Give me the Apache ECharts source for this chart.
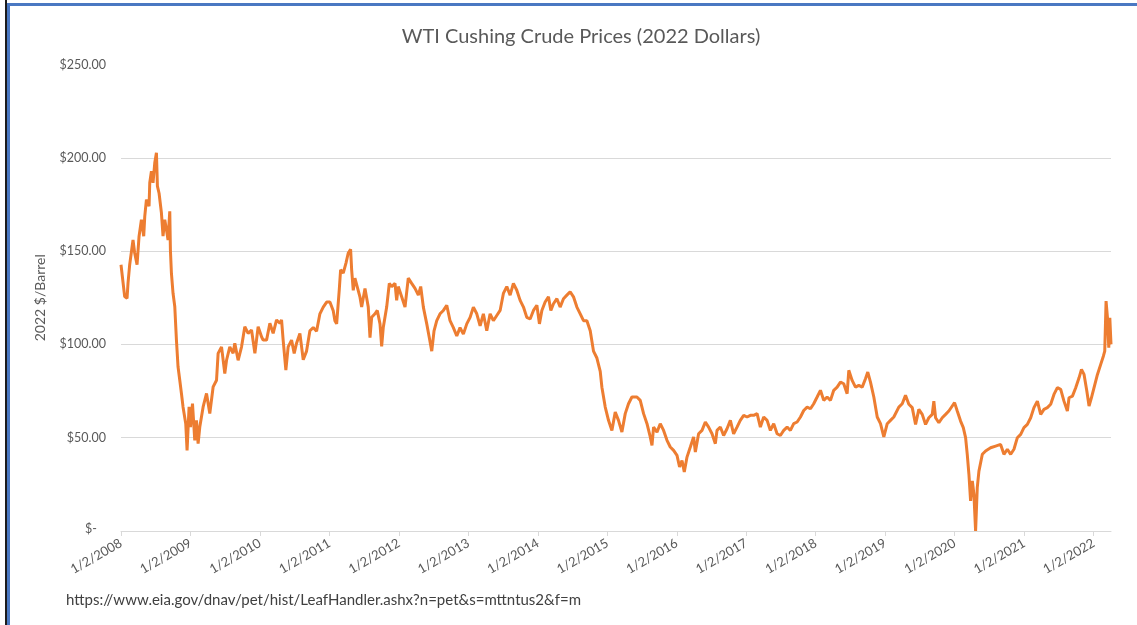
<!DOCTYPE html>
<html>
<head>
<meta charset="utf-8">
<script src="https://cdn.jsdelivr.net/npm/echarts@6/dist/echarts.min.js"></script>
<style>
  html, body { margin: 0; padding: 0; background: #fff; }
  #wrap { position: relative; width: 1137px; height: 625px; overflow: hidden; }
  #chart { position: absolute; left: 0; top: 0; width: 1137px; height: 625px; }
  .edge { position: absolute; }
</style>
</head>
<body>
<div id="wrap">
  <div id="chart"></div>
  <div class="edge" style="left:5px;top:0;width:2px;height:625px;background:#1c1c1c;"></div>
  <div class="edge" style="left:7px;top:3px;width:3px;height:622px;background:#4a78c2;"></div>
  <div class="edge" style="left:7px;top:3px;width:1130px;height:3px;background:#4a78c2;"></div>
</div>
<script>
// ==============================================================
// WTI Cushing crude, real 2022 dollars
// ==============================================================
var yearTicks = [2008, 2009, 2010, 2011, 2012, 2013, 2014, 2015, 2016, 2017, 2018, 2019, 2020, 2021, 2022];

// decimal year of each reading
var dateYears = [
  2008.000, 2008.053, 2008.087, 2008.101, 2008.125, 2008.173, 2008.197, 2008.231, 2008.260, 2008.294,
  2008.327, 2008.342, 2008.366, 2008.404, 2008.414, 2008.438, 2008.461, 2008.486, 2008.510, 2008.524,
  2008.548, 2008.582, 2008.605, 2008.630, 2008.654, 2008.677, 2008.702, 2008.711, 2008.726, 2008.749,
  2008.774, 2008.798, 2008.821, 2008.846, 2008.870, 2008.893, 2008.932, 2008.951, 2008.980, 2009.000,
  2009.029, 2009.062, 2009.086, 2009.110, 2009.134, 2009.182, 2009.231, 2009.278, 2009.326, 2009.375,
  2009.398, 2009.447, 2009.494, 2009.519, 2009.566, 2009.614, 2009.638, 2009.686, 2009.735, 2009.782,
  2009.830, 2009.879, 2009.927, 2009.974, 2010.023, 2010.046, 2010.095, 2010.143, 2010.190, 2010.239,
  2010.287, 2010.311, 2010.334, 2010.373, 2010.406, 2010.455, 2010.493, 2010.527, 2010.575,
  2010.623, 2010.671, 2010.719, 2010.767, 2010.815, 2010.863, 2010.911, 2010.960, 2011.007, 2011.055,
  2011.079, 2011.104, 2011.141, 2011.161, 2011.199, 2011.238, 2011.271, 2011.305, 2011.320, 2011.343,
  2011.367, 2011.392, 2011.439, 2011.464, 2011.512, 2011.536, 2011.559, 2011.584, 2011.608, 2011.656,
  2011.689, 2011.728, 2011.752, 2011.775, 2011.824, 2011.862, 2011.896, 2011.944, 2011.968, 2011.991,
  2012.040, 2012.088, 2012.135, 2012.184, 2012.232, 2012.280, 2012.314, 2012.352, 2012.401, 2012.438,
  2012.473, 2012.506, 2012.545, 2012.592, 2012.640, 2012.689, 2012.736, 2012.784, 2012.833, 2012.880,
  2012.928, 2012.977, 2013.025, 2013.072, 2013.121, 2013.169, 2013.216, 2013.265, 2013.313, 2013.360,
  2013.409, 2013.457, 2013.504, 2013.553, 2013.601, 2013.648, 2013.697, 2013.745, 2013.793, 2013.841,
  2013.889, 2013.937, 2013.986, 2014.023, 2014.058, 2014.105, 2014.153, 2014.187, 2014.225, 2014.274,
  2014.321, 2014.369, 2014.418, 2014.465, 2014.513, 2014.562, 2014.610, 2014.657, 2014.706, 2014.754,
  2014.801, 2014.850, 2014.898,
  2014.922, 2014.970, 2015.017, 2015.066, 2015.114, 2015.161, 2015.210, 2015.258, 2015.305, 2015.354,
  2015.426, 2015.474, 2015.522, 2015.571, 2015.618, 2015.643, 2015.666, 2015.715, 2015.762, 2015.810,
  2015.859, 2015.906, 2015.954, 2016.003, 2016.040, 2016.075, 2016.108, 2016.147, 2016.195, 2016.242,
  2016.267, 2016.314, 2016.363, 2016.411, 2016.458, 2016.507, 2016.555, 2016.579, 2016.627, 2016.674,
  2016.723, 2016.771, 2016.818, 2016.867, 2016.914, 2016.963, 2017.012, 2017.059, 2017.107, 2017.156,
  2017.203, 2017.251, 2017.300, 2017.347, 2017.395, 2017.444, 2017.491, 2017.539, 2017.588, 2017.635,
  2017.683, 2017.732, 2017.780, 2017.827, 2017.876, 2017.924, 2017.971, 2018.020, 2018.068, 2018.115,
  2018.164, 2018.212, 2018.259, 2018.308, 2018.356, 2018.403, 2018.452, 2018.476, 2018.524, 2018.572,
  2018.620, 2018.669, 2018.716, 2018.749, 2018.788, 2018.836, 2018.885, 2018.932, 2018.980, 2019.029,
  2019.076, 2019.124, 2019.196, 2019.245, 2019.292,
  2019.340, 2019.389, 2019.437, 2019.484, 2019.533, 2019.581, 2019.628, 2019.677, 2019.700, 2019.725,
  2019.772, 2019.821, 2019.869, 2019.916, 2019.965, 2019.998, 2020.037, 2020.085, 2020.124, 2020.157,
  2020.181, 2020.205, 2020.229, 2020.254, 2020.277, 2020.301, 2020.325, 2020.349, 2020.398, 2020.445,
  2020.517, 2020.589, 2020.661, 2020.709, 2020.758, 2020.806, 2020.853, 2020.902, 2020.950, 2020.997,
  2021.046, 2021.094, 2021.141, 2021.190, 2021.238, 2021.285, 2021.334, 2021.382, 2021.429, 2021.478,
  2021.526, 2021.573, 2021.622, 2021.646, 2021.695, 2021.742, 2021.790, 2021.825, 2021.862, 2021.902,
  2021.934, 2021.968, 2022.006, 2022.055, 2022.102, 2022.141, 2022.160, 2022.179, 2022.199, 2022.218,
  2022.233, 2022.250
];

// $/barrel, 2022 dollars
var prices = [
  142.7, 125.6, 124.7, 132.8, 142.7, 156.0, 149.0, 142.7, 158.0, 166.8,
  158.0, 168.6, 177.6, 174.0, 186.6, 192.8, 186.6, 197.3, 202.7, 184.8,
  181.0, 170.4, 158.0, 166.8, 161.5, 156.0, 171.3, 150.7, 138.0, 127.4,
  120.3, 102.3, 88.0, 80.8, 73.7, 66.5, 57.5, 43.2, 66.5, 55.7,
  68.3, 48.6, 59.3, 46.8, 55.7, 66.5, 73.7, 63.0, 77.2, 80.8,
  95.2, 98.7, 84.4, 91.5, 98.7, 95.2, 100.6, 91.5, 98.7, 109.5,
  105.9, 107.7, 95.2, 109.5, 104.1, 102.3, 102.3, 111.3, 105.9, 113.1,
  111.3, 113.1, 102.3, 86.2, 98.7, 102.3, 95.2, 100.6, 105.9,
  91.8, 96.4, 107.3, 109.0, 107.0, 116.4, 120.0, 122.7, 122.7, 118.0,
  112.7, 111.0, 129.0, 140.0, 138.2, 143.6, 149.0, 150.9, 140.0, 129.0,
  135.5, 134.5, 125.5, 120.0, 130.0, 129.0, 120.0, 103.6, 114.5, 116.4,
  118.2, 111.0, 99.0, 109.0, 120.0, 132.7, 131.0, 132.7, 123.6, 131.0,
  125.5, 120.0, 135.5, 132.7, 130.0, 126.4, 131.0, 120.0, 111.0, 103.6,
  96.4, 107.3, 112.7, 116.4, 118.2, 121.0, 112.7, 109.0, 104.5, 109.0,
  105.5, 111.0, 114.5, 120.0, 116.4, 110.0, 116.4, 107.3, 116.4, 112.7,
  115.5, 118.2, 127.3, 131.0, 126.4, 132.7, 129.0, 123.6, 120.0, 114.5,
  113.6, 118.2, 121.0, 111.0, 118.2, 122.7, 125.5, 118.2, 121.8, 124.5,
  120.0, 124.5, 126.4, 128.2, 125.5, 120.0, 116.4, 112.7, 112.7, 107.3,
  96.4, 92.7, 85.5,
  77.1, 66.4, 59.3, 53.9, 63.7, 59.3, 53.0, 62.9, 68.2, 71.8,
  71.8, 70.0, 62.9, 57.5, 50.4, 45.9, 55.7, 53.0, 57.5, 53.9,
  48.6, 45.0, 43.2, 40.5, 34.3, 37.8, 31.6, 39.6, 45.0, 50.4,
  42.3, 52.1, 53.9, 58.4, 55.7, 52.1, 46.8, 53.9, 55.7, 51.2,
  54.8, 59.3, 52.1, 55.7, 59.3, 62.0, 61.1, 62.0, 62.0, 62.9,
  55.7, 61.1, 59.3, 53.9, 57.5, 52.1, 51.2, 53.9, 55.7, 53.9,
  57.5, 58.4, 61.1, 64.6, 66.4, 65.5, 68.2, 71.8, 75.4, 70.0,
  71.8, 70.0, 75.4, 77.1, 79.8, 78.9, 73.6, 86.1, 80.7, 77.1,
  78.0, 77.1, 81.6, 85.2, 79.8, 71.8, 61.1, 57.5, 50.4, 57.5,
  59.3, 61.1, 66.4, 68.2, 72.7,
  67.9, 66.1, 57.1, 65.2, 62.5, 57.1, 60.7, 62.5, 69.6, 60.7,
  58.0, 60.7, 62.5, 64.3, 67.0, 68.8, 64.3, 58.9, 55.4, 50.0,
  41.1, 30.4, 16.1, 26.8, 19.6, 0.0, 23.2, 32.1, 41.1, 42.9,
  44.6, 45.5, 46.4, 41.1, 43.8, 41.1, 43.8, 50.0, 51.8, 55.4,
  57.1, 60.7, 66.1, 69.6, 62.5, 65.2, 66.1, 67.9, 73.2, 76.8,
  75.9, 69.6, 64.3, 71.4, 72.3, 76.8, 82.1, 86.6, 83.9, 75.0,
  67.0, 71.4, 76.8, 83.9, 89.3, 93.8, 96.4, 123.2, 114.3, 98.2,
  114.3, 100.0
];

var titleText = 'WTI Cushing Crude Prices (2022 Dollars)';
var sourceText = 'https://www.eia.gov/dnav/pet/hist/LeafHandler.ashx?n=pet&s=mttntus2&f=m';

var seriesData = dateYears.map(function (t, i) { return [t, prices[i]]; });

var dom = document.getElementById('chart');
var myChart = echarts.init(dom);
var option = {
    animation: false,
    textStyle: { fontFamily: 'Lato' },
    title: {
        text: titleText,
        left: 576,
        textAlign: 'center',
        top: 22,
        textStyle: { color: '#595959', fontSize: 20, fontWeight: 'normal', fontFamily: 'Lato' }
    },
    grid: { left: 121, right: 26, top: 64.5, bottom: 94 },
    xAxis: {
        type: 'value',
        min: 2008,
        max: 2022.25,
        axisLine: { lineStyle: { color: '#d9d9d9' } },
        axisTick: { show: true, length: 5, customValues: yearTicks, lineStyle: { color: '#d9d9d9' } },
        splitLine: { show: false },
        axisLabel: {
            customValues: yearTicks,
            rotate: 30,
            margin: 11,
            color: '#595959',
            fontSize: 13,
            formatter: function (v) { return '1/2/' + v; }
        }
    },
    yAxis: {
        type: 'value',
        min: 0,
        max: 250,
        interval: 50,
        name: '2022 $/Barrel',
        nameLocation: 'middle',
        nameGap: 74,
        nameTextStyle: { color: '#595959', fontSize: 14 },
        axisLine: { show: false },
        axisTick: { show: false },
        splitLine: { showMaxLine: false, lineStyle: { color: '#d9d9d9', width: 1 } },
        axisLabel: {
            margin: 15,
            color: '#595959',
            fontSize: 12.5,
            formatter: function (v) { return v === 0 ? '{z|$-}' : '$' + v.toFixed(2); },
            rich: { z: { color: '#595959', fontSize: 12.5, padding: [0, 9, 4, 0] } }
        }
    },
    graphic: [{
        type: 'text',
        left: 66,
        top: 593,
        style: { text: sourceText, fill: '#404040', fontSize: 15, fontFamily: 'Lato' }
    }],
    series: [{
        name: 'WTI',
        type: 'line',
        data: seriesData,
        showSymbol: false,
        lineStyle: { color: '#ED7D31', width: 3 },
        itemStyle: { color: '#ED7D31' }
    }]
};

if (option && typeof option === 'object') {
    myChart.setOption(option, true);
}
</script>
</body>
</html>
